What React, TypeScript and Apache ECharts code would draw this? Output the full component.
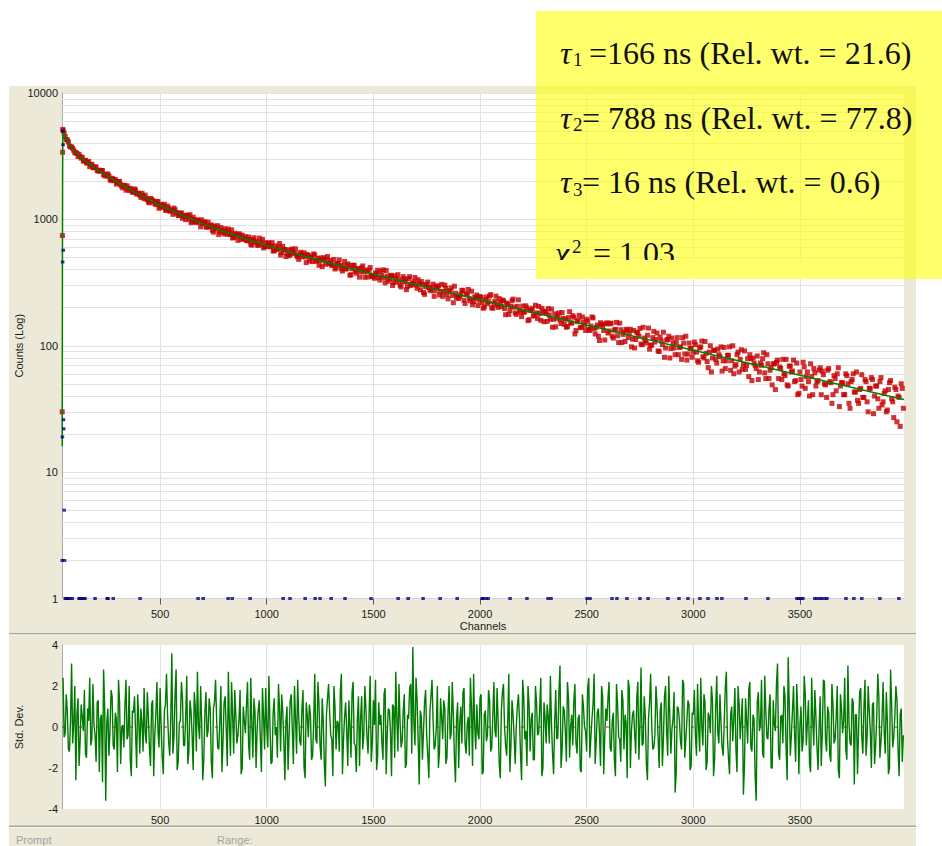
import React, { useEffect, useRef } from "react";
import * as echarts from "echarts";

// ---------- axes ----------
const CH_MIN = 40;
const CH_MAX = 3988;
const X_TICKS = [500, 1000, 1500, 2000, 2500, 3000, 3500];
const LOG_MIN = 1;
const LOG_MAX = 10000;
const LOG_MINOR_GRID = [
  2, 3, 4, 5, 6, 7, 8, 9,
  20, 30, 40, 50, 60, 70, 80, 90,
  200, 300, 400, 500, 600, 700, 800, 900,
  2000, 3000, 4000, 5000, 6000, 7000, 8000, 9000,
];
const RESID_MIN = -4;
const RESID_MAX = 4;
const RESID_INTERVAL = 2;

// ---------- decay data (counts) ----------
const RISE_CH = [41, 42, 43, 44, 45];
const RISE_COUNTS = [30, 745, 3400, 5150, 5050];

const DECAY_STEP = 10;
// channels 50, 60, 70 ...
const DECAY_A_FIRST_CH = 50;
const DECAY_COUNTS_A = [
  4819, 4284, 4096, 3745, 3648,
  3360, 3320, 3270, 3051, 2886, 2937, 2816, 2618, 2727, 2557,
  2584, 2418, 2404, 2432, 2211, 2207, 2207, 2026, 2086, 2067,
  1950, 1993, 1828, 1861, 1703, 1760, 1759, 1647, 1742, 1585,
  1604, 1488, 1522, 1556, 1432, 1351, 1446, 1388, 1309, 1381,
  1262, 1284, 1316, 1177, 1230, 1171, 1096, 1192, 1124, 1078,
  1124, 1061, 996, 1060, 1089, 965, 998, 949, 984, 874,
  931, 957, 869, 873, 904, 793, 867, 891, 801, 822,
  767, 805, 838, 758, 712, 775, 741, 769, 695, 704,
  729, 676, 694, 625, 716, 658, 622, 661, 695, 607,
  611, 651, 614, 562, 618, 582, 645, 548, 580, 508,
  575, 527, 584, 540, 518, 482, 549, 524, 505, 528,
  468, 501, 533, 466, 492, 472, 423, 497, 479, 444,
  473, 438, 405, 448, 478, 407, 428, 404, 444, 361,
  407, 433, 375, 409, 385, 428, 348, 388, 396, 361,
  352, 377, 396, 331, 359, 344, 394, 324, 357, 300,
  357, 319, 334, 292, 352, 322, 295, 352, 306, 321,
  302, 333, 277, 305, 255, 306, 289, 272, 307, 272,
  288, 252, 306, 268, 285, 235, 270, 250, 296, 240,
  236, 256, 273, 216, 255, 236, 270, 224, 239, 208,
  245, 220, 202, 243, 223, 254, 198, 224, 211, 236,
  204, 227, 176, 213, 190, 227, 202, 177, 231, 184,
  206, 186, 199, 161, 190, 173, 209, 164, 180, 198,
  155, 180, 197, 162, 140, 179, 165, 182, 150, 165,
  162, 142, 186, 151, 168, 132, 159, 139, 169, 145,
  162, 135, 143, 166, 124, 146, 110, 148, 132, 149,
  126, 149, 119, 133, 153, 106, 134, 123, 108, 133,
  125, 98, 132, 112, 126, 137, 102, 115, 105, 138,
  101, 116, 107, 126, 90, 109, 128, 96, 112, 80,
  115, 96, 106, 85, 98, 116, 86, 77, 105, 96,
  89, 102, 76, 96, 109, 80, 87, 67, 100, 80,
  92, 73, 85, 98, 76, 66, 84, 98, 76, 60,
  71, 89, 78, 65, 91, 70, 57, 79, 80, 70,
  83, 62, 70, 88, 55, 72, 64, 49, 72, 74,
  55, 66, 78, 58, 49, 69, 62, 77, 53, 41,
  62, 48, 68, 57, 52, 72, 41, 61, 52, 64,
  41, 59, 49, 64, 52, 35, 58, 44, 67, 48,
  51, 41, 58, 35, 52, 60, 43, 37, 45, 59,
  39, 52, 30, 46, 54, 40, 48, 32, 56, 36,
  44, 31, 51, 38, 27, 45, 40, 23, 46,
];
// channels 55, 65, 75 ...
const DECAY_B_FIRST_CH = 55;
const DECAY_COUNTS_B = [
  4522, 4245, 3800, 3743, 3523,
  3390, 3142, 3141, 3101, 2919, 2786, 2874, 2707, 2571, 2616,
  2428, 2445, 2440, 2264, 2250, 2293, 2068, 2115, 2024, 1901,
  1997, 1880, 1775, 1848, 1841, 1695, 1707, 1634, 1705, 1609,
  1550, 1610, 1457, 1470, 1373, 1460, 1406, 1337, 1387, 1223,
  1316, 1245, 1185, 1275, 1161, 1191, 1229, 1128, 1071, 1120,
  1019, 1070, 1080, 1008, 942, 1041, 951, 989, 949, 991,
  935, 870, 950, 888, 820, 886, 836, 760, 863, 791,
  843, 762, 773, 826, 721, 760, 682, 751, 749, 697,
  681, 726, 635, 689, 670, 628, 711, 634, 595, 653,
  648, 608, 654, 564, 578, 606, 522, 611, 575, 535,
  515, 568, 541, 584, 505, 533, 506, 544, 455, 518,
  504, 463, 522, 473, 433, 496, 480, 442, 508, 449,
  431, 482, 414, 446, 430, 390, 464, 409, 434, 365,
  433, 389, 403, 349, 413, 384, 398, 350, 416, 353,
  342, 368, 347, 387, 399, 314, 356, 337, 361, 318,
  341, 365, 301, 321, 338, 278, 339, 300, 312, 347,
  285, 311, 322, 264, 293, 319, 278, 290, 246, 297,
  297, 269, 246, 302, 254, 272, 287, 219, 260, 247,
  246, 275, 229, 257, 279, 227, 211, 243, 252, 229,
  242, 198, 231, 215, 247, 200, 217, 247, 201, 219,
  230, 197, 218, 177, 205, 234, 182, 205, 191, 170,
  184, 207, 158, 191, 198, 172, 182, 205, 159, 186,
  188, 156, 175, 195, 162, 141, 175, 160, 183, 148,
  140, 167, 152, 173, 124, 155, 174, 140, 154, 132,
  156, 132, 169, 136, 140, 119, 152, 143, 111, 152,
  131, 151, 115, 135, 120, 151, 106, 128, 135, 116,
  135, 113, 96, 128, 119, 103, 140, 110, 121, 94,
  101, 130, 112, 91, 117, 102, 81, 111, 119, 95,
  105, 85, 116, 97, 78, 105, 119, 86, 95, 81,
  107, 89, 74, 98, 82, 108, 75, 89, 62, 92,
  78, 94, 82, 63, 97, 76, 84, 64, 100, 69,
  85, 62, 93, 71, 65, 79, 85, 53, 73, 66,
  54, 73, 79, 61, 85, 55, 67, 72, 45, 77,
  68, 54, 60, 78, 48, 69, 63, 52, 73, 42,
  54, 74, 46, 62, 40, 57, 66, 48, 53, 67,
  63, 50, 39, 66, 51, 41, 55, 60, 33, 51,
  41, 60, 50, 32, 54, 43, 62, 35, 46, 39,
  54, 36, 46, 56, 29, 48, 38, 52, 34, 42,
  30, 45, 53, 36, 47, 25, 39, 50, 32,
];

// ---------- fit curve ----------
const FIT_CH = [
  41, 42, 43, 44, 45, 50, 60, 70, 80, 90, 100, 125, 150, 200, 250, 300, 350, 400,
  500, 600, 700, 800, 900, 1000, 1100, 1200, 1300, 1400, 1500, 1600, 1700, 1800,
  1900, 2000, 2100, 2200, 2300, 2400, 2500, 2600, 2700, 2800, 2900, 3000, 3100,
  3200, 3300, 3400, 3500, 3600, 3700, 3800, 3900, 3988,
];
const FIT_COUNTS = [
  16, 420, 2600, 4800, 5068, 4786, 4343, 4018, 3771, 3600, 3420, 3118, 2887, 2517,
  2217, 1967, 1756, 1577, 1293, 1084, 925, 802, 703, 623, 556, 499, 450, 407, 369,
  335, 305, 278, 253, 231, 210, 192, 175, 160, 146, 133, 121.3, 110.8, 101.1, 92.3,
  84.2, 76.9, 70.2, 64.1, 58.5, 53.4, 48.7, 44.5, 40.6, 37.5,
];

// ---------- prompt (IRF) ----------
const PROMPT_PEAK_CH = [41, 42, 43, 44, 45, 46, 47, 48, 50, 52];
const PROMPT_PEAK_COUNTS = [2, 19, 460, 5000, 3900, 570, 26, 22, 5, 2];
const PROMPT_ONES_CH = [
  55, 60, 65, 69, 78, 88, 120, 125, 130, 140, 148, 195, 252, 256, 280, 406, 678,
  702, 819, 838, 922, 1077, 1109, 1180, 1227, 1250, 1302, 1367, 1489, 1616, 1663,
  1733, 1813, 1893, 2010, 2014, 2028, 2038, 2141, 2220, 2319, 2333, 2502, 2516,
  2619, 2642, 2689, 2750, 2788, 2881, 2933, 2975, 3031, 3069, 3111, 3134, 3247,
  3350, 3486, 3495, 3505, 3514, 3570, 3580, 3594, 3603, 3617, 3627, 3716, 3753,
  3790, 3875, 3964,
];

// ---------- weighted residuals ----------
const RESID_STEP = 10;
// channels 45, 55, 65 ...
const RESID_A_FIRST_CH = 45;
const RESIDUALS_A = [
  2.4, -0.3, 0.8, -1.2, 3.1, 0.2, -2.6, 1.4, -0.7, 0.5, 1.8, -1.5, 0.3, -0.9, 2.1, -0.4, 1.2, -2.2, 0.6, 2.8,
  -3.6, 0.9, -0.2, 1.5, -1.1, 0.4, 2.3, -1.8, 0.1, 1.0, -0.6, 2.0, -2.4, 0.7, -0.3, 1.6, -1.3, 0.2, 1.9, -0.8,
  0.5, -1.9, 1.3, -0.4, 2.2, -1.0, 0.0, -2.3, 1.1, 0.6, -1.4, 3.6, -0.5, 2.8, -1.7, 0.3, 1.4, -0.9, 2.5, -1.2,
  0.8, -2.1, 1.0, 2.7, -0.6, 0.2, -1.6, 1.7, -0.2, 0.9, -2.5, 1.2, 0.4, -1.1, 2.0, -0.7, 1.5, -1.9, 0.1, 2.2,
  -1.3, 0.6, -0.4, 1.8, -2.0, 0.3, 1.1, -0.9, 2.4, -1.5, 0.7, -0.1, 1.3, -2.2, 0.5, 1.9, -1.0, 0.2, -1.7, 1.4,
  0.0, 2.1, -1.2, 0.8, -2.6, 1.0, -0.3, 1.6, -1.8, 0.4, 2.3, -0.7, 0.9, -2.0, 1.2, -0.5, 0.6, -1.4, 2.6, -0.8,
  1.1, -1.6, 0.3, -2.9, 1.4, 0.7, -0.6, 2.0, -1.1, 0.2, 1.7, -2.3, 0.5, -0.2, 1.3, -1.5, 2.2, -0.9, 0.4, -1.9,
  1.5, -0.4, 0.9, -1.3, 2.5, -0.8, 0.1, -2.1, 1.2, 0.6, -1.6, 1.9, -0.3, 0.8, -2.4, 1.0, 2.7, -1.2, 0.3, -0.7,
  1.6, -1.8, 0.4, 2.1, 3.9, -0.9, 1.3, -2.8, 0.5, -0.2, 1.8, -1.4, 0.7, 2.3, -1.1, 0.0, -2.0, 1.4, -0.6, 0.9,
  -1.5, 2.0, -0.3, 0.6, -2.7, 1.2, 0.2, -0.8, 1.9, -1.3, 0.5, 2.4, -1.9, 0.1, 1.1, -0.6, 1.6, -2.2, 0.8, -0.4,
  1.3, -1.0, 2.2, -0.5, 0.3, -2.5, 1.7, 0.0, -1.4, 2.6, -0.9, 0.6, -1.8, 1.0, 0.4, -2.6, 1.5, -0.2, 2.0, -1.2,
  0.7, -1.6, 1.2, -0.3, 2.4, -2.0, 0.5, 1.1, -0.8, 0.2, -2.3, 1.8, -0.5, 3.0, -1.1, 0.8, -1.7, 1.4, 0.0, -0.9,
  2.1, -1.3, 0.6, -2.2, 1.0, -0.2, 1.9, -1.5, 0.4, 2.6, -0.7, 0.9, -1.9, 1.5, -0.4, 0.3, 2.2, -1.2, 0.7, -2.4,
  1.1, -0.6, 1.8, -1.1, 0.2, 2.3, -2.0, 0.6, -0.3, 1.4, -1.6, 2.9, -0.8, 0.5, -2.6, 1.2, 0.1, -1.0, 2.0, -0.5,
  0.8, -1.9, 1.5, -0.2, 2.5, -1.3, 0.4, -3.2, 1.0, 0.3, -1.1, 2.1, -0.6, 1.3, -2.1, 0.7, 1.8, -1.4, 0.0, 2.4,
  -0.9, 1.2, -1.7, 0.5, 2.0, -2.4, 0.9, -0.3, 1.6, -1.0, 0.2, 2.7, -1.5, 0.6, -0.7, 1.9, -2.2, 1.1, 0.3, -3.3,
  1.4, -0.8, 2.2, -1.2, 0.4, -3.6, 1.7, 0.1, -1.3, 2.5, -0.5, 0.9, -2.0, 1.3, -0.2, 3.1, -1.6, 0.6, 2.0, -1.0,
  3.4, -1.4, 0.8, -0.4, 2.1, -2.3, 1.0, -0.7, 1.6, 0.2, -1.8, 2.4, -0.9, 0.5, -2.1, 1.5, -0.3, 2.2, -1.2, 0.7,
  -1.7, 1.1, -0.6, 2.0, -2.5, 0.9, 0.3, -1.1, 3.0, -0.8, 1.4, -2.8, 0.6, -0.2, 1.9, -1.3, 2.3, -0.5, 0.8, -2.0,
  1.2, -0.9, 2.6, -1.5, 0.4, -0.2, 1.7, -2.3, 2.8, -1.0, 0.5, 1.3, -2.4, 0.9, -0.4,
];
// channels 50, 60, 70 ...
const RESID_B_FIRST_CH = 50;
const RESIDUALS_B = [
  -0.5, 1.6, -1.1, 0.3, -0.8, 2.0, 0.6, -1.9, 1.1, -0.2, -1.3, 0.9, 2.4, -0.6, 0.1, -1.7, 1.3, 0.4, -2.7, 1.0,
  0.2, -1.4, 1.8, -0.9, 0.7, -2.2, 1.2, 0.0, -1.0, 2.3, -0.4, -1.6, 0.8, 1.5, -2.0, 0.3, 0.9, -1.2, -0.3, 1.7,
  -1.0, 1.1, -2.4, 0.6, -0.2, 1.9, -1.5, 0.8, 2.6, -0.7, 0.4, -1.3, 1.6, -2.1, 0.2, 2.2, -0.9, 0.5, -1.8, 1.3,
  -0.4, 1.7, -1.2, 0.1, 2.0, -2.6, 0.7, -0.5, 1.4, -1.7, 0.9, 2.3, -1.0, 0.3, -2.2, 1.2, -0.1, 2.7, -1.4, 0.6,
  1.8, -0.8, 0.4, -2.3, 1.0, -0.3, 2.2, -1.6, 0.2, 1.4, -2.0, 0.8, -0.6, 1.9, -1.1, 0.0, 2.5, -1.8, 0.7, -0.4,
  -1.5, 0.9, 1.6, -0.7, 0.3, -2.1, 1.3, -0.2, 2.0, -1.3, 0.5, -0.9, 1.8, -2.5, 0.6, 1.1, -1.6, 0.2, -0.6, 2.2,
  -0.9, 1.4, -1.8, 0.6, 2.1, -0.4, -2.4, 1.0, 0.3, -1.2, 2.6, -0.6, 1.2, -1.9, 0.0, 1.7, -0.8, -2.2, 1.5, 0.4,
  -1.1, 2.0, -0.5, 0.7, -1.7, 1.3, 2.3, -1.4, 0.1, -0.8, 1.6, -2.3, 0.9, -0.2, 1.1, -1.5, 0.4, 2.1, -1.0, 0.8,
  -2.0, 0.6, 1.9, -1.3, 0.2, 2.4, -0.7, 0.8, -1.6, 1.2, -0.4, -2.5, 1.5, 0.3, -0.9, 2.0, -1.2, 0.5, 1.3, -1.8,
  0.7, -0.6, 2.2, -1.5, 0.4, -2.0, 1.0, 1.7, -0.8, 0.1, -1.4, 0.9, 2.6, -1.1, -0.3, 1.4, -2.3, 0.6, -0.7, 1.8,
  -1.2, 0.5, -0.2, 1.9, -1.8, 0.8, 2.1, -0.9, 0.3, -2.2, 1.3, -0.5, 0.0, 1.6, -1.4, 2.3, -0.6, -1.9, 1.1, 0.4,
  -1.6, 2.0, -0.4, 0.9, -2.4, 1.2, -0.8, 0.5, 2.5, -1.3, 0.2, -0.6, 1.7, -2.0, 1.0, -0.2, 2.2, -1.5, 0.6, 1.3,
  -0.8, 0.4, -2.1, 1.6, 0.0, -1.2, 2.4, -0.5, 1.1, -1.8, 0.7, -0.3, 2.0, -2.3, 0.9, 1.4, -1.0, 0.3, -1.6, 2.1,
  -0.5, -1.7, 1.3, 0.6, -2.5, 1.9, -0.2, 0.8, -1.3, 2.2, 0.1, -0.9, 1.5, -1.8, 0.4, 2.6, -1.1, -0.4, 1.0, -2.0,
  1.2, -0.6, 2.0, -1.4, 0.5, -0.1, 1.7, -2.2, 0.9, -0.7, 2.3, -1.5, 0.3, 1.1, -1.9, 0.6, -0.4, 2.1, -1.2, 0.0,
  1.6, -2.1, 0.7, -0.3, 1.3, -1.6, 2.5, -0.8, 0.2, -1.4, 1.9, -0.5, -2.3, 1.0, 0.4, -1.1, 2.0, -0.6, 1.4, -1.9,
  0.3, 1.8, -1.0, 0.6, -2.4, 1.2, -0.2, 2.3, -1.5, 0.8, -0.6, 1.6, -2.0, 0.1, 2.1, -1.3, 0.5, -0.8, 1.5, -2.6,
  1.1, -0.4, 2.0, -1.7, 0.7, 0.1, -1.2, 2.5, -0.9, 1.3, -2.2, 0.4, 1.8, -1.0, 0.0, -1.9, 2.3, -0.6, 1.0, -1.4,
  2.1, -0.8, 0.5, -2.1, 1.6, -0.3, 2.4, -1.6, 0.2, -0.9, 1.2, 0.6, -2.3, 1.7, -0.5, 0.9, -1.4, 2.0, -0.2, 1.1,
  -1.8, 0.4, 1.5, -0.7, 2.2, -1.3, 0.3, -2.0, 1.2, -0.5, 2.0, -1.1, 0.6, -1.7,
];

// ---------- annotation texts ----------
const FIT_RESULTS = [
  { sub: "1", rest: "=166 ns (Rel. wt. = 21.6)" },
  { sub: "2", rest: "= 788 ns (Rel. wt. = 77.8)" },
  { sub: "3", rest: "= 16 ns (Rel. wt. = 0.6)" },
];
const CHI_TEXT = "= 1.03";

const BEIGE = "#ECE9D8";
const GRID_COLOR = "#e2e2e2";
const AXIS_FONT = {
  fontFamily: "'Liberation Sans', Arial, sans-serif",
  fontSize: 11,
  color: "#1a1a1a",
};
const SERIF = "'Liberation Serif', 'Times New Roman', serif";

function buildOption() {
  const decay: number[][] = RISE_CH.map((c, i) => [c, RISE_COUNTS[i]])
    .concat(DECAY_COUNTS_A.map((v, i) => [DECAY_A_FIRST_CH + i * DECAY_STEP, v]))
    .concat(DECAY_COUNTS_B.map((v, i) => [DECAY_B_FIRST_CH + i * DECAY_STEP, v]));
  const fit = FIT_CH.map((c, i) => [c, FIT_COUNTS[i]]);
  const prompt = PROMPT_PEAK_CH.map((c, i) => [c, PROMPT_PEAK_COUNTS[i]]).concat(
    PROMPT_ONES_CH.map((c) => [c, 1])
  );
  const resid = RESIDUALS_A.map((r, i) => [RESID_A_FIRST_CH + i * RESID_STEP, r])
    .concat(RESIDUALS_B.map((r, i) => [RESID_B_FIRST_CH + i * RESID_STEP, r]))
    .sort((a, b) => a[0] - b[0]);

  const lineTexts: any[] = [];
  const baseY = [52.5, 117.5, 182];
  FIT_RESULTS.forEach((r, i) => {
    const cy = baseY[i];
    lineTexts.push({
      type: "text", x: 560, y: cy, z: 110,
      style: { text: "\u03c4", fontFamily: SERIF, fontStyle: "italic", fontSize: 32, fill: "#111", verticalAlign: "middle", align: "left" },
    });
    lineTexts.push({
      type: "text", x: 573, y: cy + 7, z: 110,
      style: { text: r.sub, fontFamily: SERIF, fontSize: 19, fill: "#111", verticalAlign: "middle", align: "left" },
    });
    lineTexts.push({
      type: "text", x: i === 0 ? 589 : 582, y: cy, z: 110,
      style: { text: r.rest, fontFamily: SERIF, fontSize: 32, fill: "#111", verticalAlign: "middle", align: "left" },
    });
  });

  const graphic: any[] = [
    // window panel
    { type: "rect", z: -100, shape: { x: 9, y: 86, width: 907, height: 760 }, style: { fill: BEIGE } },
    { type: "rect", z: -99, shape: { x: 9, y: 633, width: 907, height: 1.5 }, style: { fill: "#aca899" } },
    { type: "rect", z: -99, shape: { x: 9, y: 634.5, width: 907, height: 1 }, style: { fill: "#fbfaf5" } },
    { type: "rect", z: -99, shape: { x: 9, y: 825.5, width: 907, height: 1.5 }, style: { fill: "#aca899" } },
    { type: "rect", z: -99, shape: { x: 9, y: 827, width: 907, height: 1 }, style: { fill: "#fbfaf5" } },
    {
      type: "text", x: 16, y: 839.5, z: 10,
      style: { text: "Prompt", fontFamily: AXIS_FONT.fontFamily, fontSize: 11, fill: "#a3a3a3", verticalAlign: "middle" },
    },
    {
      type: "text", x: 217, y: 839.5, z: 10,
      style: { text: "Range:", fontFamily: AXIS_FONT.fontFamily, fontSize: 11, fill: "#a3a3a3", verticalAlign: "middle" },
    },
    // yellow note
    { type: "rect", z: 100, shape: { x: 536, y: 11, width: 406, height: 268 }, style: { fill: "rgba(255,255,0,0.58)" } },
    // chi-square line (clipped at the bottom)
    {
      type: "text", x: 555, y: 253, z: 101,
      style: { text: "\u03c7", fontFamily: SERIF, fontStyle: "italic", fontSize: 32, fill: "#111", verticalAlign: "middle" },
    },
    {
      type: "text", x: 572, y: 246, z: 101,
      style: { text: "2", fontFamily: SERIF, fontSize: 19, fill: "#111", verticalAlign: "middle" },
    },
    {
      type: "text", x: 593, y: 253, z: 101,
      style: { text: CHI_TEXT, fontFamily: SERIF, fontSize: 32, fill: "#111", verticalAlign: "middle" },
    },
    { type: "rect", z: 102, shape: { x: 536, y: 260, width: 368, height: 19 }, style: { fill: "#ffff6b" } },
    { type: "rect", z: 102, shape: { x: 904, y: 260, width: 12, height: 19 }, style: { fill: "#f7f65a" } },
    { type: "rect", z: 102, shape: { x: 916, y: 260, width: 26, height: 19 }, style: { fill: "#ffff6b" } },
    ...lineTexts,
  ];

  const labelFmt = (v: number) => String(Math.round(v));

  return {
    animation: false,
    backgroundColor: "#ffffff",
    grid: [
      { left: 62, top: 93, width: 842, height: 505.5, show: true, backgroundColor: "#ffffff", borderWidth: 0 },
      { left: 62, top: 645, width: 842, height: 164, show: true, backgroundColor: "#ffffff", borderWidth: 0 },
    ],
    xAxis: [
      {
        type: "value", gridIndex: 0, min: CH_MIN, max: CH_MAX,
        name: "Channels", nameLocation: "middle", nameGap: 22, nameMoveOverlap: false, nameTextStyle: AXIS_FONT,
        axisLine: { show: true, lineStyle: { color: "#d6d6d6", width: 1 } },
        axisTick: { show: true, length: 6, customValues: X_TICKS, lineStyle: { color: "#555" } },
        axisLabel: { ...AXIS_FONT, margin: 10, customValues: X_TICKS, formatter: labelFmt },
        splitLine: { show: true, lineStyle: { color: GRID_COLOR, width: 1 } },
      },
      {
        type: "value", gridIndex: 1, min: CH_MIN, max: CH_MAX,
        axisLine: { show: false },
        axisTick: { show: false, customValues: X_TICKS },
        axisLabel: { ...AXIS_FONT, margin: 5, customValues: X_TICKS, formatter: labelFmt },
        splitLine: { show: true, lineStyle: { color: GRID_COLOR, width: 1 } },
      },
    ],
    yAxis: [
      {
        type: "log", gridIndex: 0, logBase: 10, min: LOG_MIN, max: LOG_MAX,
        name: "Counts (Log)", nameLocation: "middle", nameGap: 38, nameMoveOverlap: false, nameTextStyle: AXIS_FONT,
        axisLine: { show: true, lineStyle: { color: "#a9a9a9", width: 1 } },
        axisTick: { show: false },
        axisLabel: { ...AXIS_FONT, margin: 4, formatter: labelFmt },
        splitLine: { show: true, lineStyle: { color: GRID_COLOR, width: 1 } },
      },
      {
        type: "value", gridIndex: 1, min: RESID_MIN, max: RESID_MAX, interval: RESID_INTERVAL,
        name: "Std. Dev.", nameLocation: "middle", nameGap: 38, nameMoveOverlap: false, nameTextStyle: AXIS_FONT,
        axisLine: { show: true, lineStyle: { color: "#a9a9a9", width: 1 } },
        axisTick: { show: false },
        axisLabel: { ...AXIS_FONT, margin: 4 },
        splitLine: { show: false },
      },
    ],
    series: [
      {
        type: "line", xAxisIndex: 0, yAxisIndex: 0,
        data: [[CH_MIN, LOG_MIN]], showSymbol: false, silent: true, z: 1,
        lineStyle: { width: 0 },
        markLine: {
          silent: true, symbol: "none", z: 1, animation: false,
          label: { show: false },
          lineStyle: { color: GRID_COLOR, width: 1, type: "solid" },
          data: LOG_MINOR_GRID.map((v) => ({ yAxis: v })),
        },
      },
      {
        type: "scatter", xAxisIndex: 0, yAxisIndex: 0,
        symbol: "rect", symbolSize: 5,
        itemStyle: { color: "#c40000" },
        data: decay, z: 3, silent: true,
      },
      {
        type: "line", xAxisIndex: 0, yAxisIndex: 0,
        data: fit, showSymbol: false,
        lineStyle: { color: "#008000", width: 1.5 },
        z: 4, silent: true,
      },
      {
        type: "scatter", xAxisIndex: 0, yAxisIndex: 0,
        symbol: "rect", symbolSize: [3.5, 3],
        itemStyle: { color: "#000080" },
        data: prompt, clip: false, z: 5, silent: true,
      },
      {
        type: "line", xAxisIndex: 1, yAxisIndex: 1,
        data: [[CH_MIN, 0], [CH_MAX, 0]], showSymbol: false,
        lineStyle: { color: "#ff0000", width: 1, type: [3, 14] },
        z: 2, silent: true,
      },
      {
        type: "line", xAxisIndex: 1, yAxisIndex: 1,
        data: resid, showSymbol: false,
        lineStyle: { color: "#007a00", width: 1.4 },
        z: 3, silent: true,
      },
    ],
    graphic: { elements: graphic },
  };
}

export default function App() {
  const ref = useRef<HTMLDivElement>(null);
  useEffect(() => {
    if (!ref.current) return;
    const chart = echarts.init(ref.current, undefined, { renderer: "svg" });
    chart.setOption(buildOption() as any);
    return () => chart.dispose();
  }, []);
  return (
    <div
      ref={ref}
      style={{ position: "absolute", left: 0, top: 0, width: 942, height: 846, background: "#fff" }}
    />
  );
}
